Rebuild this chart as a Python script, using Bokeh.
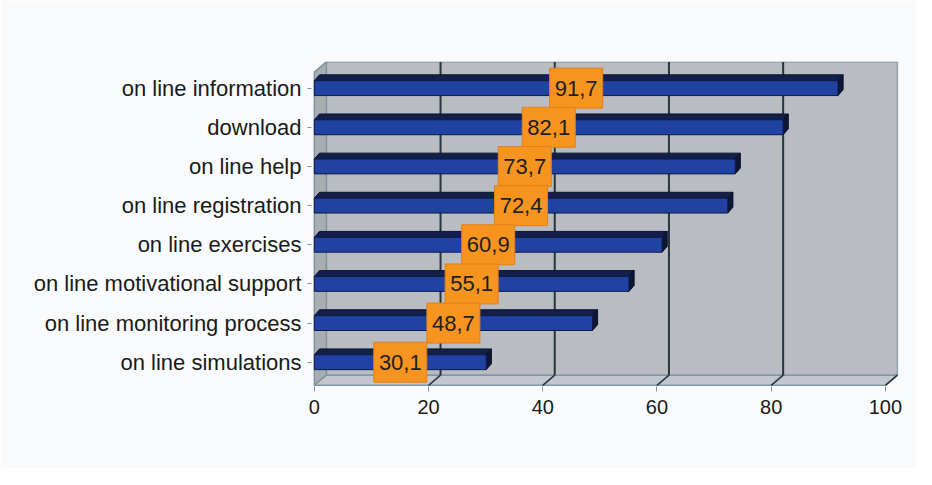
from bokeh.plotting import figure
from bokeh.models import Range1d, FixedTicker, ColumnDataSource
from bokeh.embed import file_html
from bokeh.resources import INLINE
from bokeh.core.properties import value

# ---- data (top to bottom as in the chart) ----
categories = [
    "on line information",
    "download",
    "on line help",
    "on line registration",
    "on line exercises",
    "on line motivational support",
    "on line monitoring process",
    "on line simulations",
]
values = [91.7, 82.1, 73.7, 72.4, 60.9, 55.1, 48.7, 30.1]
x_ticks = [0, 20, 40, 60, 80, 100]

# ---- geometry of the pseudo 3D scene (in data units) ----
n = len(categories)
ypos = [n - 1 - i for i in range(n)]          # top category at highest y
DX, DY = 2.1, 0.26                            # wall depth offset
FLOOR_Y = -0.59
TOP_Y = n - 1 + 0.41
BAR_H = 0.38
BDX, BDY = 0.9, 0.15                          # bar depth offset
XMAX = x_ticks[-1]

FONT = value("Liberation Sans")

p = figure(width=916, height=469, output_backend="svg", toolbar_location=None,
           x_range=Range1d(-0.5, 103), y_range=Range1d(-0.62, 7.68),
           min_border_left=311, min_border_right=14, min_border_top=61,
           min_border_bottom=83)
p.background_fill_color = "#f9fafc"
p.border_fill_color = "#f9fafc"
p.outline_line_color = None
p.xgrid.visible = False
p.ygrid.visible = False

# back wall
p.quad(left=[DX], right=[XMAX + DX], bottom=[FLOOR_Y + DY], top=[TOP_Y + DY],
       fill_color="#b9bdc1", line_color="#8fa2ae", line_width=1.5)
# left wall
p.patch([0, DX, DX, 0], [FLOOR_Y, FLOOR_Y + DY, TOP_Y + DY, TOP_Y],
        fill_color="#a9aeb3", line_color="#7f949f", line_width=1.5)
# floor
p.patch([0, XMAX, XMAX + DX, DX], [FLOOR_Y, FLOOR_Y, FLOOR_Y + DY, FLOOR_Y + DY],
        fill_color="#c3c7cb", line_color="#7f98a6", line_width=1.5)

# gridlines on wall and floor
inner = x_ticks[1:-1]
p.segment(x0=[t + DX for t in inner], y0=[FLOOR_Y + DY] * len(inner),
          x1=[t + DX for t in inner], y1=[TOP_Y + DY] * len(inner),
          line_color="#26363e", line_width=2)
p.segment(x0=x_ticks[1:], y0=[FLOOR_Y] * (len(x_ticks) - 1),
          x1=[t + DX for t in x_ticks[1:]], y1=[FLOOR_Y + DY] * (len(x_ticks) - 1),
          line_color="#26363e", line_width=1.5)

# bars: top face, end cap, front face
top_xs, top_ys, cap_xs, cap_ys = [], [], [], []
for v, y in zip(values, ypos):
    yt = y + BAR_H / 2
    yb = y - BAR_H / 2
    top_xs.append([0, v, v + BDX, BDX])
    top_ys.append([yt, yt, yt + BDY, yt + BDY])
    cap_xs.append([v, v, v + BDX, v + BDX])
    cap_ys.append([yb, yt, yt + BDY, yb + BDY])
p.patches(top_xs, top_ys, fill_color="#141f4a", line_color="#0c1433", line_width=1)
p.patches(cap_xs, cap_ys, fill_color="#0e1638", line_color="#0a1028", line_width=1)
p.hbar(y=ypos, left=0, right=values, height=BAR_H,
       fill_color="#2043a3", line_color="#101a44", line_width=1)

# value labels
src = ColumnDataSource(dict(
    x=[v / 2 for v in values], y=ypos,
    t=[f"{v:.1f}".replace(".", ",") for v in values]))
p.rect(x="x", y="y", width=53, height=40, width_units="screen", height_units="screen",
       source=src, fill_color="#f6941f", line_color="#e2801a", line_width=1)
p.text(x="x", y="y", text="t", source=src, text_align="center",
       text_baseline="middle", text_font=FONT, text_font_size="22px",
       text_color="#1e1e1e")

# axes
p.yaxis.ticker = FixedTicker(ticks=ypos)
p.yaxis.major_label_overrides = {y: c for y, c in zip(ypos, categories)}
p.yaxis.major_label_text_font = "Liberation Sans"
p.yaxis.major_label_text_font_size = "22px"
p.yaxis.major_label_text_color = "#1a1a1a"
p.yaxis.axis_line_color = None
p.yaxis.major_tick_in = 0
p.yaxis.major_tick_out = 4
p.yaxis.major_tick_line_color = "#7f949f"
p.yaxis.minor_tick_line_color = None
p.yaxis.major_label_standoff = 6

p.xaxis.ticker = FixedTicker(ticks=x_ticks)
p.xaxis.major_label_text_font = "Liberation Sans"
p.xaxis.major_label_text_font_size = "20px"
p.xaxis.major_label_text_color = "#1a1a1a"
p.xaxis.axis_line_color = None
p.xaxis.major_tick_in = 0
p.xaxis.major_tick_out = 5
p.xaxis.major_tick_line_color = "#7f949f"
p.xaxis.minor_tick_line_color = None
p.xaxis.major_label_standoff = 8

open("out.html", "w").write(file_html(p, INLINE))
